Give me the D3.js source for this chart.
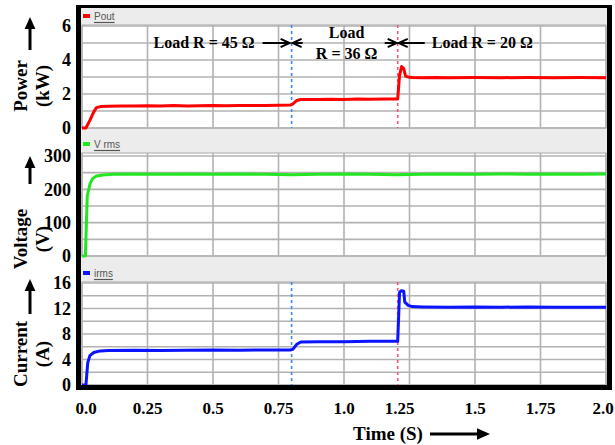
<!DOCTYPE html>
<html>
<head>
<meta charset="utf-8">
<script src="https://cdn.jsdelivr.net/npm/d3@7"></script>
<style>
  body { margin: 0; background: #fff; }
  svg { display: block; }
</style>
</head>
<body>
<svg id="chart" width="615" height="445"></svg>
<script>
// ---- data ----
const timeTicks = [0, 0.25, 0.5, 0.75, 1.0, 1.25, 1.5, 1.75, 2.0];
const timeTickLabels = ["0.0", "0.25", "0.5", "0.75", "1.0", "1.25", "1.5", "1.75", "2.0"];

const powerTicks = [0, 2, 4, 6];
const voltageTicks = [0, 100, 200, 300];
const currentTicks = [0, 4, 8, 12, 16];

// load switching instants (s)
const loadSteps = [0.8, 1.205];
const loadLabels = ["Load R = 45 Ω", "Load", "R = 36 Ω", "Load R = 20 Ω"];

// output power Pout (kW)
const powerTime = [0, 0.015, 0.03, 0.045, 0.055, 0.07, 0.1, 0.15, 0.2, 0.25, 0.3, 0.35, 0.4, 0.45, 0.5, 0.55, 0.6, 0.65, 0.7, 0.75, 0.795, 0.805, 0.82, 0.835, 0.9, 0.95, 1.0, 1.05, 1.1, 1.15, 1.205, 1.212, 1.22, 1.228, 1.235, 1.25, 1.26, 1.3, 1.35, 1.4, 1.5, 1.6, 1.7, 1.8, 1.9, 2.0];
const powerKW   = [0, 0, 0.45, 0.95, 1.2, 1.26, 1.28, 1.3, 1.29, 1.31, 1.3, 1.32, 1.3, 1.31, 1.32, 1.31, 1.33, 1.32, 1.33, 1.34, 1.35, 1.42, 1.62, 1.68, 1.67, 1.69, 1.68, 1.7, 1.69, 1.7, 1.71, 3.1, 3.62, 3.5, 3.05, 2.98, 2.97, 2.96, 2.97, 2.96, 2.97, 2.96, 2.97, 2.96, 2.97, 2.96];

// RMS voltage Vrms (V)
const voltageTime = [0, 0.013, 0.02, 0.03, 0.04, 0.055, 0.08, 0.12, 0.2, 0.3, 0.4, 0.5, 0.6, 0.7, 0.8, 0.9, 1.0, 1.1, 1.2, 1.3, 1.4, 1.5, 1.6, 1.7, 1.8, 1.9, 2.0];
const voltageV    = [0, 0, 180, 215, 232, 240, 243, 245, 246, 245, 246, 245, 246, 245, 244, 245, 246, 245, 244, 245, 246, 245, 246, 245, 246, 245, 246];

// RMS current irms (A)
const currentTime = [0, 0.015, 0.022, 0.03, 0.045, 0.07, 0.1, 0.2, 0.3, 0.4, 0.5, 0.6, 0.7, 0.795, 0.805, 0.82, 0.835, 0.9, 1.0, 1.1, 1.205, 1.212, 1.218, 1.228, 1.232, 1.245, 1.26, 1.3, 1.4, 1.5, 1.6, 1.7, 1.8, 1.9, 2.0];
const currentA    = [0, 0, 3.5, 4.6, 5.1, 5.35, 5.4, 5.45, 5.4, 5.45, 5.5, 5.45, 5.5, 5.5, 5.6, 6.4, 6.75, 6.8, 6.8, 6.85, 6.85, 14.5, 14.8, 14.7, 13.0, 12.5, 12.3, 12.25, 12.2, 12.25, 12.2, 12.25, 12.2, 12.2, 12.2];

// ---- layout ----
const svg = d3.select("#chart");
const serif = "'Liberation Serif', 'Times New Roman', serif";
const sans = "'Liberation Sans', Arial, sans-serif";

const x = d3.scaleLinear().domain([0, 2]).range([82, 606]);

const panels = [
  { legend: "Pout", color: "#ff0000", plotTop: 25, y: d3.scaleLinear().domain([0, 6]).range([128, 26]),
    ticks: powerTicks, step: 1, t: powerTime, v: powerKW, title: "Power", unit: "(kW)", markers: true },
  { legend: "V rms", color: "#22e622", plotTop: 153, y: d3.scaleLinear().domain([0, 300]).range([256, 156]),
    ticks: voltageTicks, step: 50, t: voltageTime, v: voltageV, title: "Voltage", unit: "(V)", markers: false },
  { legend: "irms", color: "#0a14ff", plotTop: 282, y: d3.scaleLinear().domain([0, 16]).range([385, 283]),
    ticks: currentTicks, step: 2, t: currentTime, v: currentA, title: "Current", unit: "(A)", markers: true }
];

// frame background (header bands)
svg.append("rect").attr("x", 80).attr("y", 7).attr("width", 528).attr("height", 380).attr("fill", "#ececec");

panels.forEach(p => {
  const g = svg.append("g");
  const bottom = p.y.range()[0];
  // white plotting area
  g.append("rect").attr("x", x(0)).attr("y", p.plotTop)
    .attr("width", x(2) - x(0)).attr("height", bottom - p.plotTop)
    .attr("fill", "#fff").attr("stroke", "#a8a8a8").attr("stroke-width", 1);

  // grid
  const hLines = d3.range(0, p.y.domain()[1] + p.step / 2, p.step);
  g.selectAll(".h").data(hLines).join("line")
    .attr("x1", x(0)).attr("x2", x(2))
    .attr("y1", d => p.y(d)).attr("y2", d => p.y(d))
    .attr("stroke", "#b2b2b2").attr("stroke-width", 1.6);
  g.selectAll(".v").data(timeTicks).join("line")
    .attr("x1", d => x(d)).attr("x2", d => x(d))
    .attr("y1", p.plotTop).attr("y2", bottom)
    .attr("stroke", "#b2b2b2").attr("stroke-width", 1.6);

  // load-change markers
  if (p.markers) {
    g.selectAll(".m").data(loadSteps).join("line")
      .attr("x1", d => x(d)).attr("x2", d => x(d))
      .attr("y1", p.plotTop).attr("y2", bottom)
      .attr("stroke", (d, i) => i === 0 ? "#3f86f5" : "#f5557a")
      .attr("stroke-width", 1.6).attr("stroke-dasharray", "3,3");
  }

  // legend in header band
  const bandBottom = p.plotTop;
  g.append("rect").attr("x", 83).attr("y", bandBottom - 11).attr("width", 7).attr("height", 4).attr("fill", p.color);
  const lt = g.append("text").attr("x", 94).attr("y", bandBottom - 5)
    .attr("font-family", sans).attr("font-size", 10).attr("fill", "#555").text(p.legend);
  g.append("line").attr("x1", 94).attr("x2", 94 + lt.node().getComputedTextLength())
    .attr("y1", bandBottom - 2.5).attr("y2", bandBottom - 2.5).attr("stroke", "#555").attr("stroke-width", 1.2);

  // series
  const pts = p.t.map((t, i) => [t, p.v[i]]);
  g.append("path").datum(pts)
    .attr("fill", "none").attr("stroke", p.color).attr("stroke-width", 3).attr("stroke-linejoin", "round")
    .attr("d", d3.line().x(d => x(d[0])).y(d => p.y(d[1])));

  // y tick labels
  g.selectAll(".yt").data(p.ticks).join("text")
    .attr("x", 71).attr("y", d => p.y(d)).attr("dy", "0.35em")
    .attr("text-anchor", "end").attr("font-family", serif).attr("font-weight", "bold").attr("font-size", 18)
    .text(d => d);
});

// outer black frame
svg.append("rect").attr("x", 76).attr("y", 5).attr("width", 536).attr("height", 3).attr("fill", "#000");
svg.append("rect").attr("x", 76).attr("y", 385).attr("width", 536).attr("height", 5).attr("fill", "#000");
svg.append("rect").attr("x", 76).attr("y", 5).attr("width", 5).attr("height", 385).attr("fill", "#000");
svg.append("rect").attr("x", 607).attr("y", 5).attr("width", 5).attr("height", 385).attr("fill", "#000");

// x tick labels
const labelNudge = { 0: 4, 1.25: -10, 2: -3 };
svg.selectAll(".xt").data(timeTicks).join("text")
  .attr("x", d => x(d) + (labelNudge[d] || 0)).attr("y", 414)
  .attr("text-anchor", "middle").attr("font-family", serif).attr("font-weight", "bold").attr("font-size", 17)
  .text((d, i) => timeTickLabels[i]);

// x axis title with arrow
svg.append("text").attr("x", 388).attr("y", 440).attr("text-anchor", "middle")
  .attr("font-family", serif).attr("font-weight", "bold").attr("font-size", 19).text("Time (S)");

function arrow(x1, y1, x2, y2, w, head, filled) {
  const g = svg.append("g");
  const ang = Math.atan2(y2 - y1, x2 - x1);
  const bx = x2 - head * Math.cos(ang), by = y2 - head * Math.sin(ang);
  const px = Math.sin(ang) * head * 0.45, py = -Math.cos(ang) * head * 0.45;
  if (filled) {
    g.append("line").attr("x1", x1).attr("y1", y1).attr("x2", bx).attr("y2", by)
      .attr("stroke", "#000").attr("stroke-width", w);
    g.append("path").attr("d", `M${x2},${y2}L${bx + px},${by + py}L${bx - px},${by - py}Z`).attr("fill", "#000");
  } else {
    g.append("line").attr("x1", x1).attr("y1", y1).attr("x2", x2).attr("y2", y2)
      .attr("stroke", "#000").attr("stroke-width", w);
    g.append("path").attr("d", `M${bx + px},${by + py}L${x2},${y2}L${bx - px},${by - py}`)
      .attr("fill", "none").attr("stroke", "#000").attr("stroke-width", w);
  }
}
arrow(430, 434, 490, 434, 3, 13, true);

// y axis titles with upward arrows
const titleY = [{ c: 86, a: [50, 17] }, { c: 239, a: [184, 156] }, { c: 354, a: [314, 279] }];
panels.forEach((p, i) => {
  const c = titleY[i].c;
  svg.append("text").attr("transform", `translate(27,${c}) rotate(-90)`)
    .attr("text-anchor", "middle").attr("font-family", serif).attr("font-weight", "bold").attr("font-size", 19)
    .text(p.title);
  svg.append("text").attr("transform", `translate(49,${c}) rotate(-90)`)
    .attr("text-anchor", "middle").attr("font-family", serif).attr("font-weight", "bold").attr("font-size", 19)
    .text(p.unit);
  arrow(30, titleY[i].a[0], 30, titleY[i].a[1], 3, 12, true);
});

// load annotations in the power panel
const ann = svg.append("g").attr("font-family", serif).attr("font-weight", "bold").attr("font-size", 16).attr("fill", "#000");
const s1 = x(loadSteps[0]), s2 = x(loadSteps[1]);
ann.append("text").attr("x", s1 - 37).attr("y", 48).attr("text-anchor", "end").text(loadLabels[0]);
ann.append("text").attr("x", s1 + 55).attr("y", 38).attr("text-anchor", "middle").text(loadLabels[1]);
ann.append("text").attr("x", s1 + 55).attr("y", 59).attr("text-anchor", "middle").text(loadLabels[2]);
ann.append("text").attr("x", s2 + 34).attr("y", 48).attr("text-anchor", "start").text(loadLabels[3]);
arrow(s1 - 29, 43, s1 - 2, 43, 2, 9, false);
arrow(s1 + 11, 43, s1 + 1, 43, 2, 9, false);
arrow(s2 - 13, 43, s2 - 1, 43, 2, 9, false);
arrow(s2 + 27, 43, s2 + 1, 43, 2, 9, false);
</script>
</body>
</html>
